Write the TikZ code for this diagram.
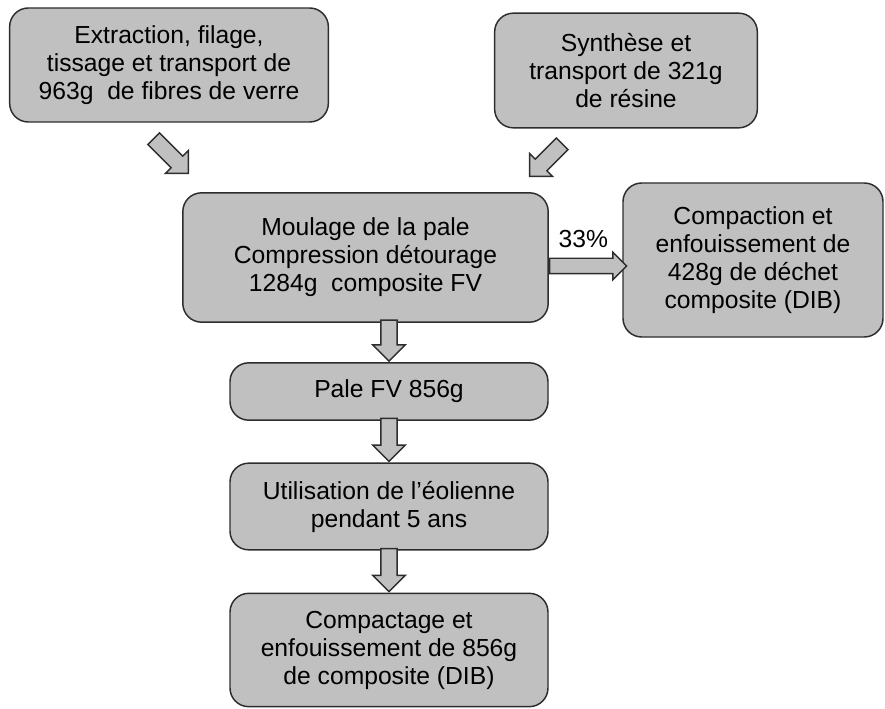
\documentclass[tikz,border=0pt]{standalone}
\usepackage{fontspec}
\setmainfont{Liberation Sans}
\usetikzlibrary{arrows.meta, positioning, shapes.arrows, calc}
\definecolor{boxgray}{RGB}{192,192,192}
\definecolor{edgegray}{RGB}{45,45,45}

\begin{document}
\begin{tikzpicture}[
  x=0.75pt, y=-0.75pt,
  stage/.style={rectangle, rounded corners=14pt, draw=edgegray, line width=1.1pt,
                fill=boxgray, align=center, inner sep=2pt,
                font=\fontsize{18.5}{21}\selectfont},
  blockarr/.style={single arrow, draw=edgegray, line width=1.1pt, fill=boxgray,
                   inner xsep=0pt, inner ysep=5.6pt, minimum width=0pt,
                   single arrow head extend=6pt, single arrow head indent=0pt},
  lbl/.style={font=\fontsize{18.5}{21}\selectfont, inner sep=0pt}
]
  \useasboundingbox (0,0) rectangle (885,709);

  %% --- Row 0: raw materials ---
  \node[stage, minimum width=239pt, minimum height=85.5pt]
    (ext) at (169,65) {Extraction, filage,\\tissage et transport de\\963g\ \ de fibres de verre};
  \node[stage, minimum width=197pt, minimum height=86pt]
    (syn) at (626,70.5) {Synth\`ese et\\transport de 321g\\de r\'esine};

  %% --- Row 1: moulding and waste ---
  \node[stage, minimum width=274pt, minimum height=97pt]
    (moul) at (365.5,257.5) {Moulage de la pale\\Compression d\'etourage\\1284g\ \ composite FV};
  \node[stage, minimum width=195pt, minimum height=115.5pt]
    (dech) at (753,260) {Compaction et\\enfouissement de\\428g de d\'echet\\composite (DIB)};

  %% --- Rows 2-4: blade life ---
  \node[stage, minimum width=238.5pt, minimum height=43pt]
    (pale) at (389,391.5) {Pale FV 856g};
  \node[stage, minimum width=238.5pt, minimum height=65pt]
    (util) at (389,506.5) {Utilisation de l'\'eolienne\\pendant 5 ans};
  \node[stage, minimum width=238.5pt, minimum height=85pt]
    (fin) at (389,650) {Compactage et\\enfouissement de 856g\\de composite (DIB)};

  %% --- Block arrows ---
  \node[blockarr, rotate=-45, anchor=tip, minimum height=36.75pt]
    (a1) at ($(moul.north west)+(7,-18)$) {};
  \node[blockarr, rotate=-135, anchor=tip, minimum height=34.5pt]
    (a2) at ($(moul.north east)+(-20,-15)$) {};
  \node[blockarr, anchor=tail, minimum height=57.75pt, inner ysep=5.25pt,
        single arrow head extend=4.5pt]
    (a4) at ($(moul.east)+(0,8.5)$) {};
  \node[lbl] (pct) at ($(a4.center)+(-1,-27)$) {33\%};

  \node[blockarr, rotate=-90, anchor=tip, minimum height=30.75pt]
    (a3) at (pale.north) {};
  \node[blockarr, rotate=-90, anchor=tip, minimum height=32.25pt]
    (a5) at (util.north) {};
  \node[blockarr, rotate=-90, anchor=tip, minimum height=32.25pt]
    (a6) at (fin.north) {};

\end{tikzpicture}
\end{document}
